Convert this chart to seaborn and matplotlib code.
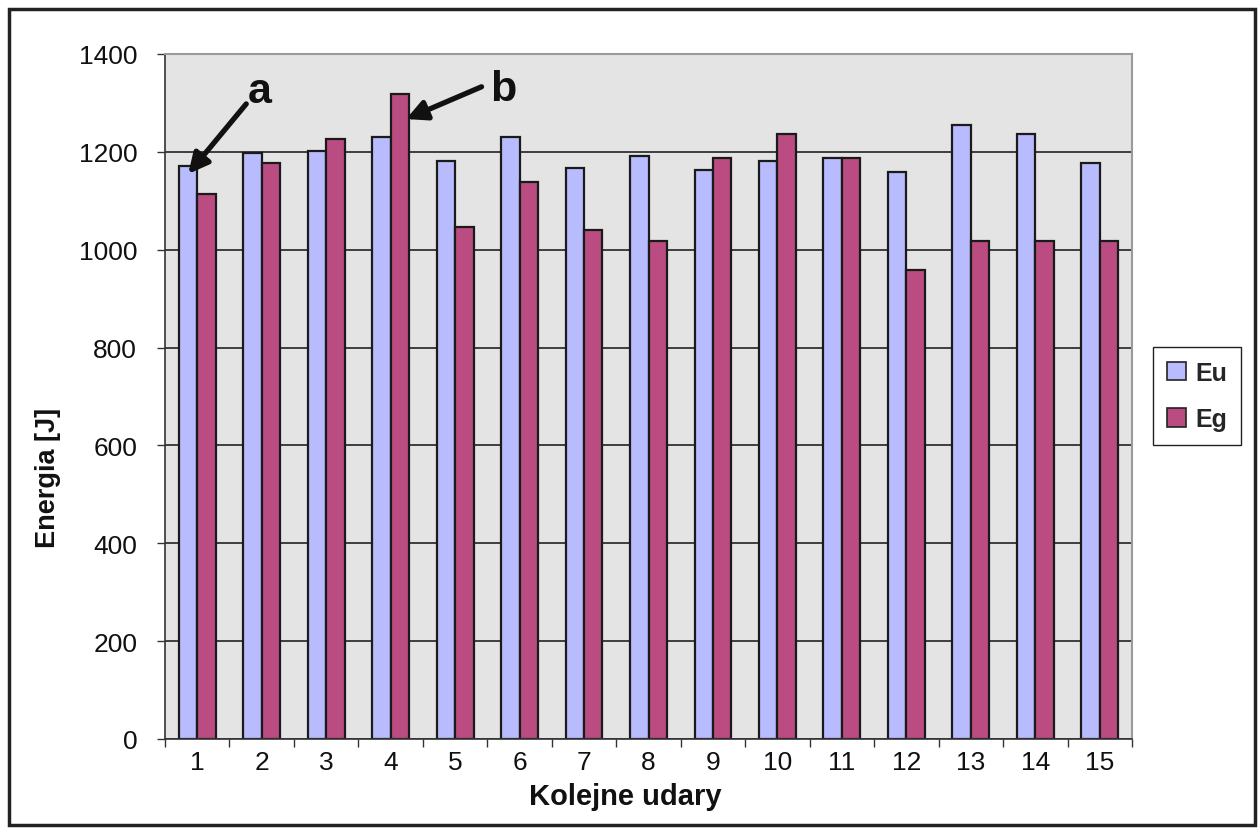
import matplotlib
matplotlib.use("Agg")
import matplotlib.pyplot as plt
from matplotlib.patches import Rectangle
import seaborn as sns
import pandas as pd
import numpy as np

# Energy per successive impact
udary = [str(i) for i in range(1, 16)]
eu = [1172, 1197, 1201, 1230, 1182, 1230, 1168, 1191, 1163, 1182, 1187, 1158, 1255, 1236, 1177]
eg = [1114, 1177, 1226, 1318, 1046, 1138, 1041, 1017, 1187, 1236, 1187, 958, 1017, 1017, 1017]
serie = ["Eu", "Eg"]
kolory = ["#B9BBFF", "#BA4C82"]

df = pd.DataFrame({
    "udar": udary * 2,
    "E": eu + eg,
    "seria": [serie[0]] * len(udary) + [serie[1]] * len(udary),
})

sns.set_theme(style="white")
plt.rcParams["font.family"] = ["Liberation Sans", "DejaVu Sans"]

W, H = 1259, 829
fig = plt.figure(figsize=(W / 100, H / 100), dpi=100)
ax = fig.add_axes([165 / W, 89 / H, (1132 - 165) / W, (740 - 55) / H])
ax.set_facecolor("#E4E4E4")

sns.barplot(data=df, x="udar", y="E", hue="seria", order=udary, hue_order=serie,
            palette=kolory, saturation=1, width=2 / 3.5, edgecolor="#1a1a1a",
            linewidth=1.6, ax=ax, legend=True)

ax.set_ylim(0, 1400)
ax.set_xlim(-0.5, len(udary) - 0.5)
ax.set_yticks(np.arange(0, 1401, 200))
ax.yaxis.grid(True, color="#111111", linewidth=1.1)
ax.set_axisbelow(True)

# category boundary ticks on x axis
ax.set_xticks(np.arange(-0.5, len(udary), 1.0), minor=True)
ax.tick_params(axis="x", which="major", length=0, labelsize=19, pad=8, colors="#111111")
ax.tick_params(axis="x", which="minor", length=6, width=1, color="#333333", direction="out", bottom=True)
ax.tick_params(axis="y", which="major", length=6, width=1, color="#333333", direction="out", left=True,
               labelsize=19, pad=14, labelcolor="#111111")

for side in ["top", "right"]:
    ax.spines[side].set_color("#9a9a9a")
    ax.spines[side].set_linewidth(1.5)
for side in ["left", "bottom"]:
    ax.spines[side].set_color("#333333")
    ax.spines[side].set_linewidth(1.2)

ax.set_xlabel("Kolejne udary", fontsize=21, fontweight="bold", color="#111111")
ax.xaxis.set_label_coords((625 - 165) / 967, (740 - 797) / 685)
ax.set_ylabel("Energia [J]", fontsize=19.5, fontweight="bold", color="#111111")
ax.yaxis.set_label_coords((48 - 165) / 967, (740 - 478) / 685)
ax.xaxis.label.set_va("center")
ax.yaxis.label.set_va("center")

# legend
leg = ax.legend(loc="center left", bbox_to_anchor=(1153 / W, (H - 397) / H), bbox_transform=fig.transFigure,
                frameon=True, fancybox=False, edgecolor="#222222", framealpha=1,
                prop={"size": 18, "weight": "bold"}, handlelength=0.75, handleheight=0.75,
                handletextpad=0.4, labelspacing=0.9, borderpad=0.55, borderaxespad=0)
leg.get_frame().set_linewidth(1.0)
for h in leg.legend_handles:
    h.set_edgecolor("#222222")
    h.set_linewidth(1.2)

# annotation arrows
arrow = dict(arrowstyle="-|>,head_length=1.0,head_width=0.5", color="#111111", lw=3.8, shrinkA=0, shrinkB=0)
ax.annotate("", xy=(-0.14, eu[0] - 17), xytext=(0.76, 1298), arrowprops=arrow)
ax.text(0.97, 1325, "a", fontsize=31, fontweight="bold", ha="center", va="center", color="#111111")
ax.annotate("", xy=(3.24, 1267), xytext=(4.41, 1333), arrowprops=arrow)
ax.text(4.74, 1328, "b", fontsize=31, fontweight="bold", ha="center", va="center", color="#111111")

# outer frame
fig.patches.append(Rectangle((9 / W, 3 / H), (1255 - 9) / W, (819 - 3) / H, transform=fig.transFigure,
                             fill=False, edgecolor="#222222", linewidth=2.5))

fig.savefig("out.png", dpi=100)
